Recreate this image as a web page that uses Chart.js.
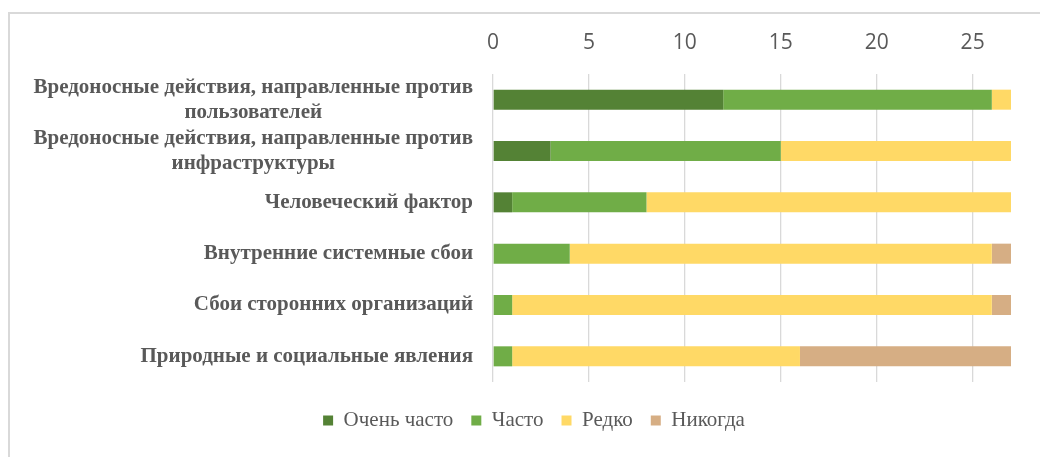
<!DOCTYPE html>
<html>
<head>
<meta charset="utf-8">
<script src="https://cdn.jsdelivr.net/npm/chart.js@4/dist/chart.umd.min.js"></script>
<style>
  html, body { margin: 0; padding: 0; background: #fff; }
  #wrap { position: relative; width: 1040px; height: 457px; }
  #frame {
    position: absolute; left: 8px; top: 12px; right: 0; bottom: 0;
    border-left: 2px solid #d9d9d9; border-top: 2px solid #d9d9d9;
    pointer-events: none;
  }
</style>
</head>
<body>
<div id="wrap">
  <canvas id="chart" width="1040" height="457"></canvas>
  <div id="frame"></div>
</div>
<script>
// Chart data
const categories = [
  ['Вредоносные действия, направленные против', 'пользователей'],
  ['Вредоносные действия, направленные против', 'инфраструктуры'],
  ['Человеческий фактор'],
  ['Внутренние системные сбои'],
  ['Сбои сторонних организаций'],
  ['Природные и социальные явления']
];
const seriesNames = ['Очень часто', 'Часто', 'Редко', 'Никогда'];
const veryOften = [12, 3, 1, 0, 0, 0];
const often = [14, 12, 7, 4, 1, 1];
const rarely = [1, 12, 19, 22, 25, 15];
const never = [0, 0, 0, 1, 1, 11];
const xTicks = [0, 5, 10, 15, 20, 25];

const colors = ['#548235', '#70ad47', '#ffd966', '#d6ae84'];
const textColor = '#595959';
const labelFont = 'bold 21px "Liberation Serif"';

/**
 * Draw category labels left of the plot, multi-line ones centred as a block
 */
const categoryLabels = {
  id: 'categoryLabels',
  afterDraw(chart) {
    const ctx = chart.ctx;
    const yScale = chart.scales.y;
    const right = chart.chartArea.left - 20;
    const lineHeight = 25;
    ctx.save();
    ctx.font = labelFont;
    ctx.fillStyle = textColor;
    ctx.textAlign = 'center';
    ctx.textBaseline = 'middle';
    categories.forEach((lines, i) => {
      const y = yScale.getPixelForTick(i);
      const maxWidth = Math.max(...lines.map(l => ctx.measureText(l).width));
      const cx = right - maxWidth / 2;
      const top = y - (lines.length - 1) * lineHeight / 2;
      lines.forEach((line, j) => {
        ctx.fillText(line, cx, top + j * lineHeight);
      });
    });
    ctx.restore();
  }
};

const seriesData = [veryOften, often, rarely, never];

new Chart(document.getElementById('chart'), {
  type: 'bar',
  data: {
    labels: categories.map(c => c.join(' ')),
    datasets: seriesNames.map((name, i) => ({
      label: name,
      data: seriesData[i],
      backgroundColor: colors[i],
      borderWidth: 0,
      barPercentage: 0.39,
      categoryPercentage: 1
    }))
  },
  options: {
    indexAxis: 'y',
    responsive: false,
    animation: false,
    layout: {
      // extra left padding shifts the centred legend to the right
      padding: { left: 57, right: 29, top: 0, bottom: 16 }
    },
    plugins: {
      legend: {
        position: 'bottom',
        // empty title only adds space above the legend items
        title: {
          display: true,
          text: ' ',
          padding: 0,
          font: { size: 10, lineHeight: 1 }
        },
        labels: {
          color: textColor,
          boxWidth: 10,
          boxHeight: 10,
          padding: 18,
          font: { family: '"Liberation Serif"', size: 21 }
        }
      },
      tooltip: { enabled: false }
    },
    scales: {
      x: {
        position: 'top',
        stacked: true,
        min: 0,
        max: 27,
        afterBuildTicks: function(scale) {
          scale.ticks = xTicks.map(v => ({ value: v }));
        },
        afterFit: function(scale) {
          scale.height = 74;
        },
        grid: {
          color: '#d9d9d9',
          lineWidth: 1.3,
          drawTicks: false
        },
        border: { display: false },
        ticks: {
          color: textColor,
          padding: 18,
          font: { family: '"Open Sans"', size: 21 }
        }
      },
      y: {
        stacked: true,
        afterFit: function(scale) {
          scale.width = 436;
        },
        grid: { display: false },
        border: { display: false },
        ticks: { display: false }
      }
    }
  },
  plugins: [categoryLabels]
});
</script>
</body>
</html>
